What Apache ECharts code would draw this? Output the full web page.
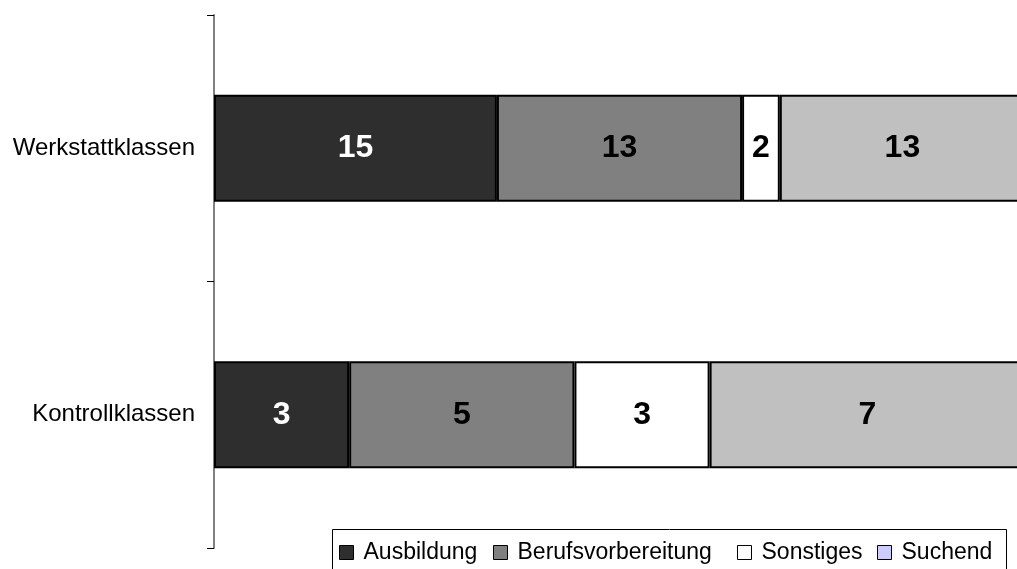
<!DOCTYPE html>
<html>
<head>
<meta charset="utf-8">
<script src="https://cdn.jsdelivr.net/npm/echarts@6/dist/echarts.min.js"></script>
<style>
  html, body { margin: 0; padding: 0; background: #fff; }
  #chart { width: 1017px; height: 569px; }
</style>
</head>
<body>
<div id="chart"></div>
<script>
const categories = ['Werkstattklassen', 'Kontrollklassen']
const seriesNames = ['Ausbildung', 'Berufsvorbereitung', 'Sonstiges', 'Suchend']
const ausbildung = [15, 3]
const berufsvorbereitung = [13, 5]
const sonstiges = [2, 3]
const suchend = [13, 7]

const barColors = ['#2e2e2e', '#808080', '#ffffff', '#c0c0c0']
const legendColors = ['#2e2e2e', '#808080', '#ffffff', '#ccccff']
const labelColors = ['#fff', '#000', '#000', '#000']
const legendLeft = [339, 493, 737, 877]

const values = [ausbildung, berufsvorbereitung, sonstiges, suchend]
// 100% gestapelt: Summe je Kategorie
const totals = categories.map((c, i) => values.reduce((s, arr) => s + arr[i], 0))

const chart = echarts.init(document.getElementById('chart'))

const series = seriesNames.map((name, k) => ({
  name,
  type: 'bar',
  stack: 'all',
  barWidth: 107,
  itemStyle: { color: barColors[k], borderColor: '#000', borderWidth: 2 },
  label: {
    show: true,
    position: 'inside',
    color: labelColors[k],
    fontSize: 32,
    fontWeight: 'bold',
    fontFamily: 'Liberation Sans, Arial, sans-serif',
    formatter: p => p.data.raw
  },
  data: values[k].map((v, i) => ({ value: v / totals[i] * 100, raw: v }))
}))

const legends = seriesNames.map((name, k) => ({
  left: legendLeft[k],
  top: 541,
  padding: 0,
  itemWidth: 14,
  itemHeight: 14,
  icon: 'rect',
  selectedMode: false,
  itemStyle: { borderColor: '#000', borderWidth: 1 },
  textStyle: {
    fontSize: 23,
    color: '#000',
    fontFamily: 'Liberation Sans, Arial, sans-serif',
    padding: [0, 0, 0, 5]
  },
  data: [{ name, itemStyle: { color: legendColors[k], borderColor: '#000', borderWidth: 1 } }]
}))

chart.setOption({
  animation: false,
  grid: { left: 214, width: 811, top: 15, bottom: 21, outerBoundsMode: 'none' },
  xAxis: { type: 'value', min: 0, max: 100, show: false },
  yAxis: {
    type: 'category',
    data: categories,
    inverse: true,
    axisLine: { show: true, lineStyle: { color: '#808080', width: 2 } },
    axisTick: { show: true, length: 7, lineStyle: { color: '#000', width: 1 } },
    axisLabel: {
      margin: 19,
      fontSize: 24,
      color: '#000',
      fontFamily: 'Liberation Sans, Arial, sans-serif'
    }
  },
  legend: legends,
  graphic: [{
    type: 'rect',
    shape: { x: 332.5, y: 529.5, width: 674, height: 60 },
    style: { fill: 'none', stroke: '#000', lineWidth: 1 },
    z: 0
  }],
  series
})
</script>
</body>
</html>
